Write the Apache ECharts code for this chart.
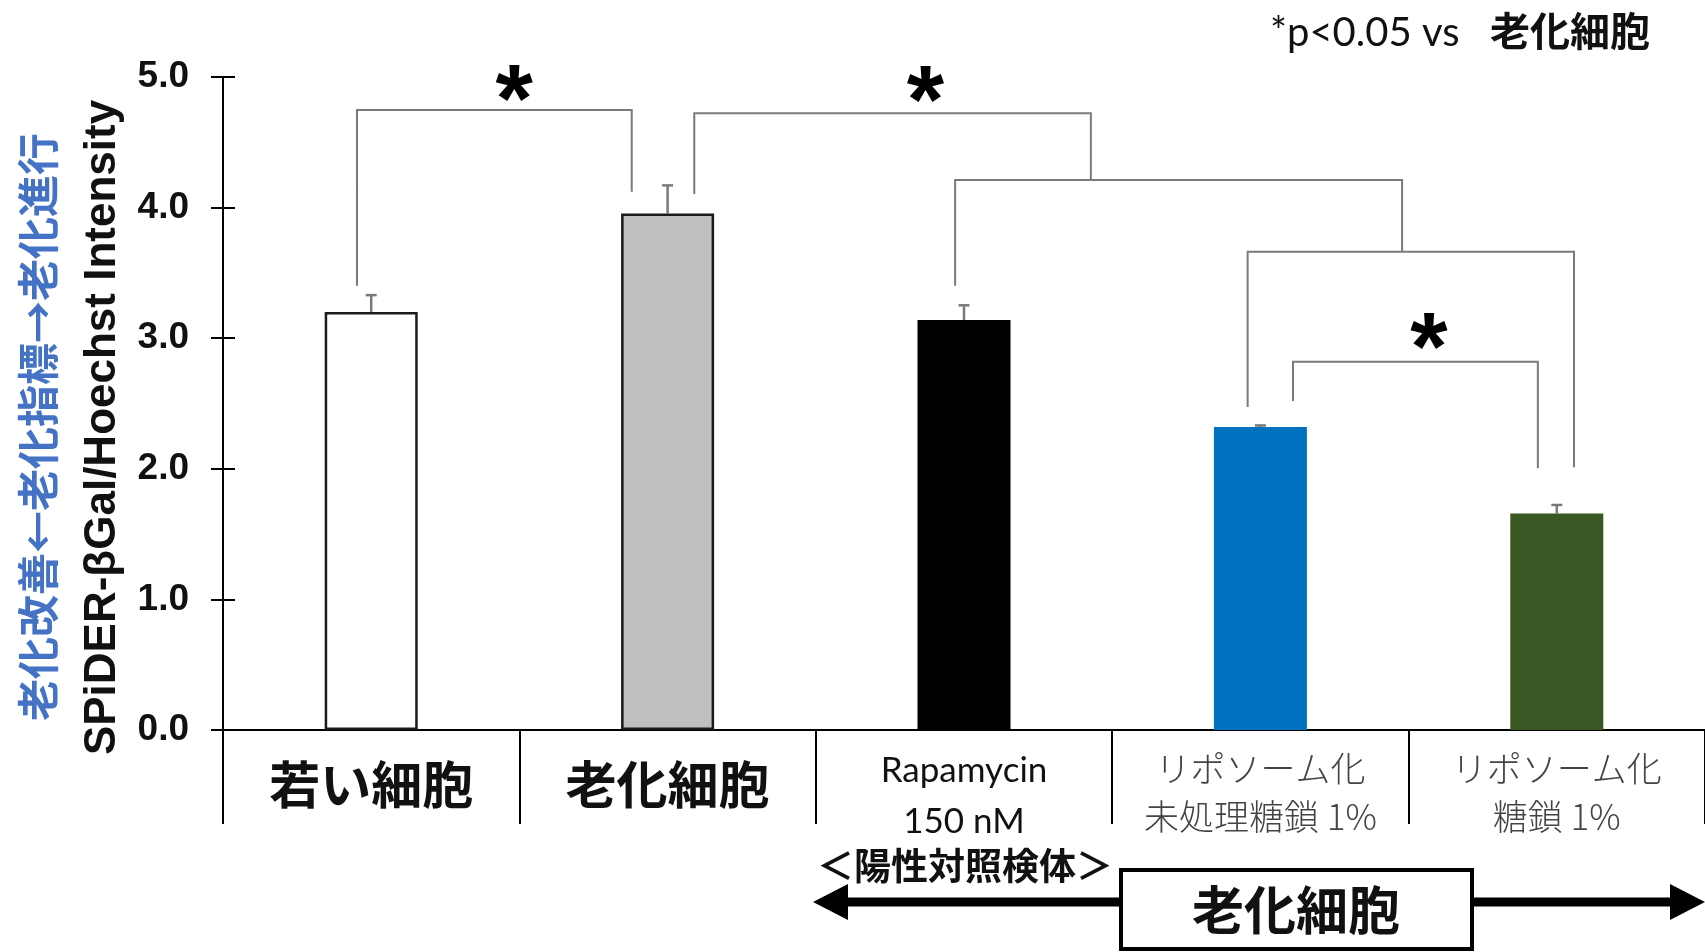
<!DOCTYPE html>
<html>
<head>
<meta charset="utf-8">
<script src="https://cdn.jsdelivr.net/npm/echarts@6/dist/echarts.min.js"></script>
<style>
  html, body { margin: 0; padding: 0; background: #ffffff; }
  #chart { width: 1705px; height: 952px; }
</style>
</head>
<body>
<div id="chart"></div>
<script>
// Groups along the x axis
const categories = ['若い細胞', '老化細胞', 'Rapamycin\n150 nM', 'リポソーム化\n未処理糖鎖 1%', 'リポソーム化\n糖鎖 1%'];
// Mean SPiDER-βGal/Hoechst intensity per group
const means = [3.20, 3.955, 3.14, 2.32, 1.657];
// Standard error per group
const errors = [0.13, 0.215, 0.112, 0.012, 0.066];
// Bar fills
const barColors = ['#FFFFFF', '#BFBFBF', '#000000', '#0070C0', '#385723'];
const barBorders = ['#1a1a1a', '#1a1a1a', '#000000', '#0070C0', '#385723'];
// Y axis scale
const yMin = 0, yMax = 5, yStep = 1;
// Significance brackets: [left x, left leg end, right x, right leg end, bar height] in axis units
const brackets = [
  [-0.048, 3.402, 0.879, 4.122, 4.748],
  [1.090, 4.104, 2.428, 4.211, 4.723],
  [1.970, 3.402, 3.478, 3.662, 4.211],
  [2.957, 2.474, 4.058, 2.012, 3.662],
  [3.110, 2.520, 3.936, 2.005, 2.819]
];
// Asterisk marks: [x, y] in axis units
const stars = [
  [0.482, 4.952],
  [1.870, 4.941],
  [3.569, 3.049]
];

const chart = echarts.init(document.getElementById('chart'), null, { renderer: 'canvas' });

const GRAY = '#7a7a7a';
const JP = '"Noto Sans CJK JP", "Noto Sans", sans-serif';
const STAR_SIZE = 96;

function labelFormatter(value, index) {
  const lines = value.split('\n');
  if (index < 2) return lines.map(l => '{b|' + l + '}').join('\n');
  if (index === 2) return lines.map(l => '{r|' + l + '}').join('\n');
  return lines.map(l => '{g|' + l + '}').join('\n');
}

const option = {
  backgroundColor: '#ffffff',
  animation: false,
  grid: { left: 223, right: 0, top: 77, bottom: 222, containLabel: false },
  xAxis: [
    {
      type: 'category',
      data: categories,
      boundaryGap: true,
      axisLine: { show: true, onZero: false, lineStyle: { color: '#000', width: 2 } },
      axisTick: { show: true, length: 94, interval: 0, lineStyle: { color: '#000', width: 2 } },
      axisLabel: {
        interval: 0,
        margin: 15,
        formatter: labelFormatter,
        rich: {
          b: { fontFamily: JP, fontWeight: 'bold', fontSize: 51, color: '#111', lineHeight: 80 },
          r: { fontFamily: 'Lato, "Open Sans", sans-serif', fontSize: 35, color: '#111', lineHeight: 51 },
          g: { fontFamily: JP, fontWeight: 300, fontSize: 35, color: '#444', lineHeight: 48 }
        }
      }
    },
    {
      type: 'value',
      min: -0.5,
      max: 4.5,
      show: false
    }
  ],
  yAxis: [
    {
      type: 'value',
      min: yMin,
      max: yMax,
      interval: yStep,
      axisLine: { show: true, onZero: false, lineStyle: { color: '#000', width: 2 } },
      axisTick: { show: true, length: 12, lineStyle: { color: '#000', width: 2 } },
      splitLine: { show: false },
      axisLabel: {
        margin: 34,
        formatter: v => v.toFixed(1),
        fontFamily: '"Liberation Sans", Arial, sans-serif',
        fontWeight: 'bold',
        fontSize: 37,
        color: '#111'
      },
      name: 'SPiDER-βGal/Hoechst Intensity',
      nameLocation: 'middle',
      nameGap: 98,
      nameRotate: 90,
      nameTextStyle: {
        fontFamily: '"Liberation Sans", Arial, sans-serif',
        fontWeight: 'bold',
        fontSize: 44,
        color: '#111',
        padding: [0, 48, 0, 0]
      }
    },
    {
      type: 'value',
      min: yMin,
      max: yMax,
      interval: yStep,
      position: 'left',
      axisLine: { show: false, onZero: false },
      axisTick: { show: true, inside: true, length: 12, lineStyle: { color: '#000', width: 2 } },
      axisLabel: { show: false },
      splitLine: { show: false }
    }
  ],
  series: [
    {
      type: 'bar',
      xAxisIndex: 0,
      yAxisIndex: 0,
      barWidth: 93,
      data: means.map((v, i) => ({
        value: v,
        itemStyle: { color: barColors[i], borderColor: barBorders[i], borderWidth: i < 2 ? 2.5 : 0 }
      })),
      z: 2
    },
    {
      // error bars
      type: 'custom',
      xAxisIndex: 1,
      yAxisIndex: 0,
      data: means.map((v, i) => [i, v, errors[i]]),
      renderItem: function (params, api) {
        const x = api.value(0), v = api.value(1), e = api.value(2);
        const p0 = api.coord([x, v]);
        const p1 = api.coord([x, v + e]);
        const half = 5.5;
        return {
          type: 'group',
          children: [
            { type: 'line', shape: { x1: p0[0], y1: p0[1], x2: p1[0], y2: p1[1] }, style: { stroke: GRAY, lineWidth: 2.5 } },
            { type: 'line', shape: { x1: p1[0] - half, y1: p1[1], x2: p1[0] + half, y2: p1[1] }, style: { stroke: GRAY, lineWidth: 2.5 } }
          ]
        };
      },
      z: 1
    },
    {
      // significance brackets
      type: 'custom',
      xAxisIndex: 1,
      yAxisIndex: 0,
      data: brackets,
      renderItem: function (params, api) {
        const a = api.coord([api.value(0), api.value(1)]);
        const b = api.coord([api.value(0), api.value(4)]);
        const c = api.coord([api.value(2), api.value(4)]);
        const d = api.coord([api.value(2), api.value(3)]);
        return {
          type: 'polyline',
          shape: { points: [a, b, c, d] },
          style: { stroke: GRAY, lineWidth: 2, fill: null }
        };
      },
      z: 3
    },
    {
      // asterisks; the glyph sits high in its em box, so drop it to centre on the point
      type: 'custom',
      xAxisIndex: 1,
      yAxisIndex: 0,
      data: stars,
      renderItem: function (params, api) {
        const p = api.coord([api.value(0), api.value(1)]);
        return {
          type: 'text',
          x: p[0],
          y: p[1] + STAR_SIZE * 0.22,
          style: {
            text: '*',
            fontFamily: '"Liberation Sans", Arial, sans-serif',
            fontWeight: 'bold',
            fontSize: STAR_SIZE,
            fill: '#000',
            align: 'center',
            verticalAlign: 'middle'
          }
        };
      },
      z: 4
    }
  ],
  graphic: [
    {
      type: 'text',
      x: 38,
      y: 427,
      rotation: Math.PI / 2,
      style: {
        text: '老化改善←老化指標→老化進行',
        fontFamily: JP,
        fontSize: 42,
        fontWeight: 'bold',
        fill: '#4472C4',
        align: 'center',
        verticalAlign: 'middle'
      }
    },
    {
      type: 'text',
      x: 1270,
      y: 33,
      style: {
        text: '*p<0.05 vs',
        fontFamily: 'Lato, "Open Sans", sans-serif',
        fontSize: 40,
        fill: '#111',
        align: 'left',
        verticalAlign: 'middle'
      }
    },
    {
      type: 'text',
      x: 1490,
      y: 31,
      style: {
        text: '老化細胞',
        fontFamily: JP,
        fontWeight: 'bold',
        fontSize: 40,
        fill: '#111',
        align: 'left',
        verticalAlign: 'middle'
      }
    },
    {
      type: 'text',
      x: 965,
      y: 866,
      style: {
        text: '＜陽性対照検体＞',
        fontFamily: JP,
        fontWeight: 'bold',
        fontSize: 37,
        fill: '#111',
        align: 'center',
        verticalAlign: 'middle'
      }
    },
    // double-headed arrow spanning the senescent-cell groups
    {
      type: 'polygon',
      shape: { points: [[813, 902], [848, 884], [848, 897.5], [1670, 897.5], [1670, 884], [1705, 902], [1670, 920], [1670, 906.5], [848, 906.5], [848, 920]] },
      style: { fill: '#000' }
    },
    {
      type: 'rect',
      shape: { x: 1121, y: 870, width: 351, height: 79 },
      style: { fill: '#fff', stroke: '#000', lineWidth: 4 }
    },
    {
      type: 'text',
      x: 1296,
      y: 910,
      style: {
        text: '老化細胞',
        fontFamily: JP,
        fontWeight: 'bold',
        fontSize: 52,
        fill: '#111',
        align: 'center',
        verticalAlign: 'middle'
      }
    }
  ]
};

chart.setOption(option);
</script>
</body>
</html>
